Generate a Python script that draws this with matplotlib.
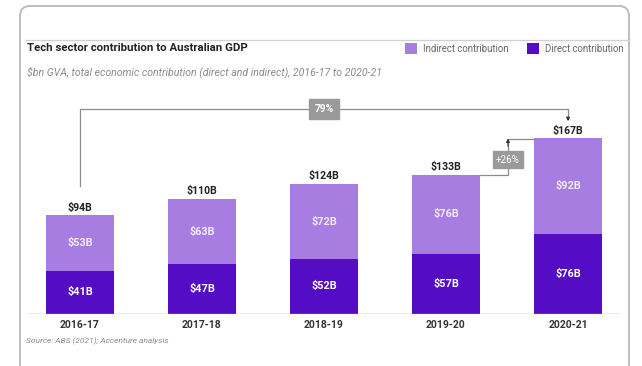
import matplotlib
matplotlib.use("Agg")
import matplotlib.pyplot as plt
from matplotlib.patches import FancyBboxPatch, Rectangle

plt.rcParams['font.family'] = ['Roboto', 'DejaVu Sans']

# Data ($bn GVA)
years = ["2016-17", "2017-18", "2018-19", "2019-20", "2020-21"]
direct = [41, 47, 52, 57, 76]
indirect = [53, 63, 72, 76, 92]
totals = [94, 110, 124, 133, 167]
growth_total = "79%"
growth_last = "+26%"

LIGHT = "#a87de2"
DARK = "#540cc4"
GREY_BOX = "#9a9a9a"
W, H = 642, 366

fig = plt.figure(figsize=(W / 100, H / 100), dpi=100)
fig.patch.set_facecolor("white")

# Overlay in pixel coordinates for the card, headings and notes
bg = fig.add_axes([0, 0, 1, 1])
bg.set_xlim(0, W)
bg.set_ylim(H, 0)
bg.axis("off")

card = FancyBboxPatch((20, 6), 609, 400, boxstyle="round,pad=0,rounding_size=10",
                      facecolor="white", edgecolor="#bdbdbd", linewidth=1.4)
bg.add_patch(card)
bg.plot([26, 629], [40, 40], color="#d0d0d0", linewidth=0.9)

bg.text(27, 48, "Tech sector contribution to Australian GDP", fontsize=8.2,
        fontweight="bold", color="#222222", va="center", ha="left")
bg.text(27, 72, "$bn GVA, total economic contribution (direct and indirect), 2016-17 to 2020-21",
        fontsize=7.6, fontstyle="italic", color="#8a8a8a", va="center", ha="left")

# Legend
bg.add_patch(Rectangle((405, 43), 12, 11, facecolor=LIGHT, edgecolor="none"))
bg.text(423, 48.5, "Indirect contribution", fontsize=6.9, color="#666666", va="center", ha="left")
bg.add_patch(Rectangle((527, 43), 12, 11, facecolor=DARK, edgecolor="none"))
bg.text(545, 48.5, "Direct contribution", fontsize=6.9, color="#666666", va="center", ha="left")

bg.text(26, 341, "Source: ABS (2021); Accenture analysis", fontsize=6.0,
        color="#8a8a8a", va="center", ha="left", fontstyle="italic")

# Main chart axes
x0, x1 = 27, 621
y_base, y_top = 313.5, 100
px_per_unit_x = 122
px_per_b = 1.045
ax = fig.add_axes([x0 / W, (H - y_base) / H, (x1 - x0) / W, (y_base - y_top) / H])
ax.patch.set_alpha(0)
ax.set_xlim((x0 - 80) / px_per_unit_x, (x1 - 80) / px_per_unit_x)
ax.set_ylim(0, (y_base - y_top) / px_per_b)
for s in ax.spines.values():
    s.set_visible(False)
ax.set_yticks([])

xs = list(range(len(years)))
bw = 0.557
ax.bar(xs, direct, width=bw, color=DARK, zorder=2)
ax.bar(xs, indirect, width=bw, bottom=direct, color=LIGHT, zorder=2)
ax.axhline(0, color="#9e9e9e", linewidth=1.0, zorder=3)

ax.set_xticks(xs)
ax.set_xticklabels(years, fontsize=7.5, fontweight="bold", color="#333333")
ax.tick_params(axis="x", length=0, pad=5)

for i in xs:
    ax.text(i, direct[i] / 2, f"${direct[i]}B", ha="center", va="center",
            fontsize=7.8, fontweight="bold", color="white", zorder=4)
    ax.text(i, direct[i] + indirect[i] / 2, f"${indirect[i]}B", ha="center", va="center",
            fontsize=7.8, fontweight="bold", color="#f3ecff", zorder=4)
    ax.text(i, totals[i] + 2.5, f"${totals[i]}B", ha="center", va="bottom",
            fontsize=7.6, fontweight="bold", color="#222222", zorder=4)

# Overall growth bracket from first to last year
line_c = "#8c8c8c"
top_y = 195.5
ax.plot([0, 0, 4, 4], [122, top_y, top_y, 187], color=line_c, linewidth=0.9, zorder=3)
ax.annotate("", xy=(4, 184), xytext=(4, 188),
            arrowprops=dict(arrowstyle="-|>", color="#333333", lw=0.8,
                            mutation_scale=5, shrinkA=0, shrinkB=0), zorder=4)
ax.text(2, top_y, growth_total, ha="center", va="center", fontsize=7.4,
        fontweight="bold", color="white", zorder=5,
        bbox=dict(boxstyle="square,pad=0.5", facecolor=GREY_BOX, edgecolor=GREY_BOX))

# Year-on-year bracket between the last two bars
xm = 3.508
ax.plot([3 + bw / 2, xm, xm], [totals[3], totals[3], 165], color=line_c, linewidth=0.9, zorder=3)
ax.plot([xm, 4 - bw / 2], [totals[4], totals[4]], color=line_c, linewidth=0.9, zorder=3)
ax.annotate("", xy=(xm, 167.5), xytext=(xm, 160),
            arrowprops=dict(arrowstyle="-|>", color="#333333", lw=0.8,
                            mutation_scale=5, shrinkA=0, shrinkB=0), zorder=4)
ax.text(xm, 147, growth_last, ha="center", va="center", fontsize=7.0,
        color="white", zorder=5,
        bbox=dict(boxstyle="square,pad=0.35", facecolor=GREY_BOX, edgecolor=GREY_BOX))

fig.savefig("out.png", dpi=100, facecolor="white")
